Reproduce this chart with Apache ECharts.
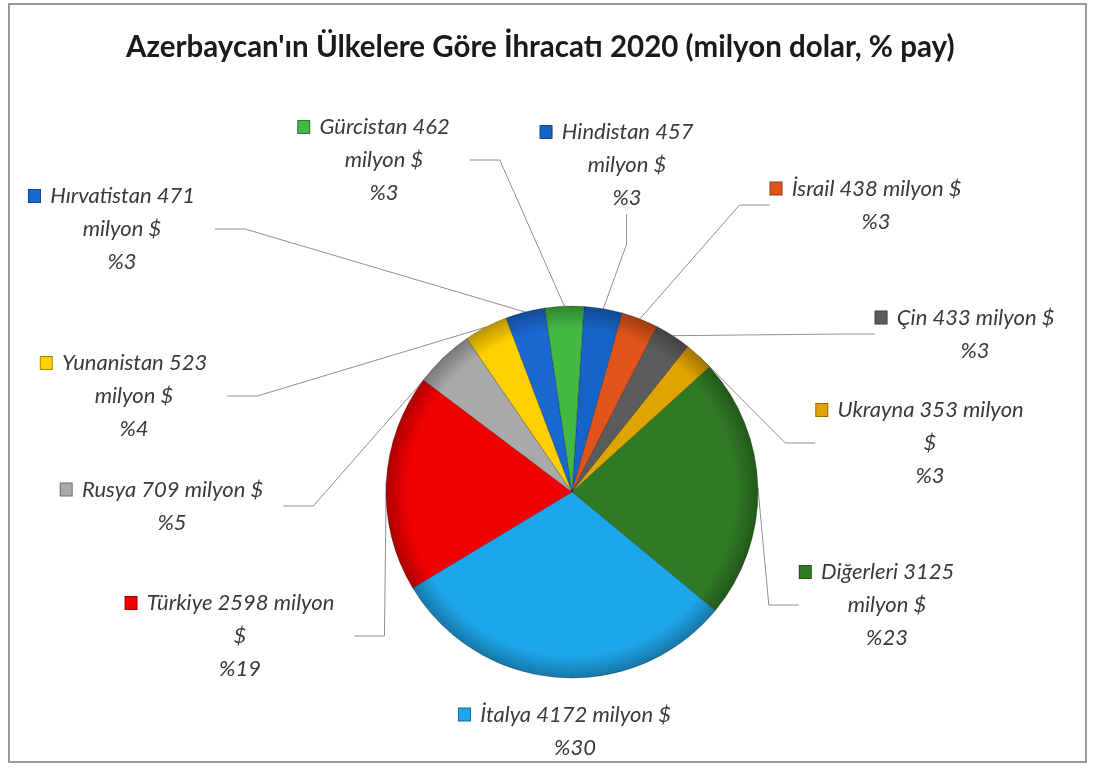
<!DOCTYPE html>
<html><head><meta charset="utf-8">
<script src="https://cdn.jsdelivr.net/npm/echarts@6/dist/echarts.min.js"></script>
<style>
html,body{margin:0;padding:0;background:#fff}
#frame{position:absolute;left:8px;top:3px;width:1079px;height:760px;border:2px solid #9a9a9a;box-sizing:border-box}
#c{position:absolute;left:0;top:0;width:1094px;height:771px}
</style></head>
<body><div id="frame"></div><div id="c"></div>
<script>
const titleText = "Azerbaycan'ın Ülkelere Göre İhracatı 2020 (milyon dolar, % pay)";
const countries = ['Hindistan','İsrail','Çin','Ukrayna','Diğerleri','İtalya','Türkiye','Rusya','Yunanistan','Hırvatistan','Gürcistan'];
const values = [457, 438, 433, 353, 3125, 4172, 2598, 709, 523, 471, 462];
const unit = 'milyon $';

// styling / layout (not data)
const colors = ['#1565c8','#e0541a','#5c5c5c','#e0a400','#2f7a24','#1ea6ea','#f20000','#a9a9a9','#ffd000','#1a68d2','#43b843'];
const wrapMode = ['A','B','B','C','A','B','C','B','A','A','A'];
const labelPos = [[627,165],[876,205],[975,334],[930,443],[887,605],[575,731],[240,636],[172,506],[134,396],[122,229],[384,160]];
const noLine = [5];
const CX = 572, CY = 492, R = 186;

const total = values.reduce((a,b)=>a+b,0);
function shade(hex, f){
  const n = parseInt(hex.slice(1),16);
  let r=(n>>16)&255,g=(n>>8)&255,b=n&255;
  r=Math.round(r*f);g=Math.round(g*f);b=Math.round(b*f);
  return 'rgb('+r+','+g+','+b+')';
}
const rich = {sp:{width:20,height:12}};
colors.forEach((c,i)=>{ rich['sq'+i] = {width:11,height:12,backgroundColor:c,borderColor:shade(c,0.65),borderWidth:1}; });

const data = countries.map((n,i)=>({
  name:n, value:values[i],
  labelLine:{show: noLine.indexOf(i) < 0},
  itemStyle:{
    color: new echarts.graphic.RadialGradient(CX, CY, R, [
      {offset:0, color:colors[i]},
      {offset:0.88, color:colors[i]},
      {offset:1, color:shade(colors[i],0.72)}
    ], true)
  }
}));

const chart = echarts.init(document.getElementById('c'));
chart.setOption({
  animation:false,
  title:{
    text:titleText, left:121, top:27,
    textStyle:{fontFamily:'Lato', fontWeight:'bold', fontSize:29.5, color:'#1a1a1a'}
  },
  series:[{
    type:'pie',
    center:[CX, CY],
    radius:R,
    startAngle:86.3,
    clockwise:true,
    data:data,
    itemStyle:{borderColor:'rgba(0,0,0,0.25)', borderWidth:1},
    label:{
      show:true,
      position:'outside',
      fontFamily:'Lato', fontStyle:'italic', fontSize:22, color:'#3a3a3a',
      lineHeight:33, align:'center',
      rich:rich,
      formatter:function(p){
        const i=p.dataIndex;
        const pct='%'+Math.round(p.value/total*100);
        const head='{sq'+i+'|}  '+p.name+' '+p.value;
        if(wrapMode[i]==='A') return head+'{sp|}\n'+unit+'\n'+pct;
        if(wrapMode[i]==='B') return head+' '+unit+'{sp|}\n'+pct;
        return head+' milyon{sp|}\n$\n'+pct;
      }
    },
    labelLine:{show:true, lineStyle:{color:'#8f8f8f', width:1}},
    labelLayout:function(p){
      const q=labelPos[p.dataIndex];
      return {x:q[0], y:q[1], align:'center', verticalAlign:'middle'};
    }
  }]
});
</script>
</body></html>
